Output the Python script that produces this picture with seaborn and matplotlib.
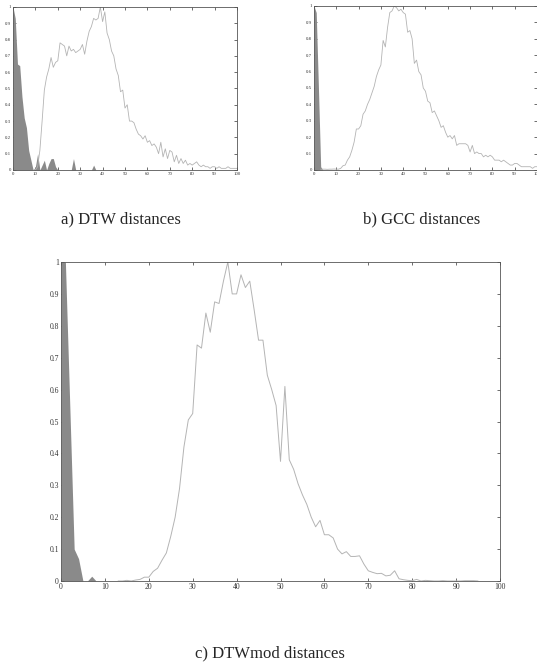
import numpy as np
import pandas as pd
import matplotlib
matplotlib.use("Agg")
import matplotlib.pyplot as plt
import seaborn as sns

sns.set_style("ticks")
plt.rcParams['font.family'] = ['Liberation Serif', 'DejaVu Serif']

# ---------------- data ----------------
x_a_fill = [0, 1, 2, 3, 4, 5, 6, 7, 8, 9, 10, 11, 12, 13, 14, 15, 16, 17, 18, 19, 20,
            26, 27, 28, 35, 36, 37, 100]
a_within = [1.0, 0.93, 0.65, 0.64, 0.45, 0.32, 0.26, 0.12, 0.06, 0.0, 0.02, 0.10, 0.0, 0.03, 0.06, 0.0, 0.04, 0.07, 0.07, 0.02, 0.0,
            0.0, 0.07, 0.0, 0.0, 0.03, 0.0, 0.0]
x_a_line = list(range(9, 101))
a_between = [0.0, 0.0, 0.02, 0.12, 0.3, 0.49, 0.57, 0.62, 0.69, 0.63, 0.66, 0.67,
             0.78, 0.77, 0.76, 0.70, 0.76, 0.73, 0.74, 0.72, 0.73, 0.74, 0.77, 0.71,
             0.79, 0.85, 0.88, 0.93, 0.92, 0.93, 1.0, 0.91, 0.97, 0.84, 0.80, 0.73,
             0.70, 0.62, 0.58, 0.48, 0.49, 0.38, 0.40, 0.30, 0.30, 0.29, 0.25, 0.22,
             0.21, 0.19, 0.21, 0.17, 0.18, 0.15, 0.16, 0.14, 0.10, 0.17, 0.08, 0.13,
             0.07, 0.12, 0.11, 0.05, 0.09, 0.04, 0.07, 0.04, 0.06, 0.03, 0.04, 0.03,
             0.04, 0.05, 0.03, 0.02, 0.03, 0.02, 0.02, 0.01, 0.02, 0.02, 0.01, 0.02,
             0.01, 0.01, 0.01, 0.02, 0.01, 0.01, 0.01, 0.01]

x_b_fill = [0, 1, 2, 3, 4, 100]
b_within = [1.0, 0.96, 0.5, 0.02, 0.0, 0.0]
x_b_line = list(range(3, 101))
b_between = [0.005, 0.005, 0.005, 0.004, 0.005, 0.005, 0.006, 0.005, 0.005, 0.01,
             0.026, 0.03, 0.06, 0.08, 0.12, 0.17, 0.25, 0.25, 0.27, 0.34,
             0.36, 0.40, 0.43, 0.47, 0.51, 0.57, 0.61, 0.64, 0.79, 0.75,
             0.87, 0.96, 0.97, 1.0, 0.99, 0.97, 0.98, 0.96, 0.95, 0.84,
             0.85, 0.80, 0.65, 0.67, 0.60, 0.58, 0.50, 0.48, 0.42, 0.41,
             0.35, 0.36, 0.33, 0.30, 0.26, 0.27, 0.23, 0.20, 0.21, 0.19,
             0.21, 0.15, 0.16, 0.16, 0.16, 0.16, 0.15, 0.11, 0.15, 0.10,
             0.11, 0.10, 0.10, 0.08, 0.09, 0.08, 0.09, 0.08, 0.06, 0.06,
             0.06, 0.05, 0.06, 0.05, 0.04, 0.03, 0.03, 0.04, 0.04, 0.03,
             0.02, 0.02, 0.02, 0.02, 0.02, 0.01, 0.02, 0.02]

x_c_fill = [0, 1, 2, 3, 4, 5, 6, 7, 8, 100]
c_within = [1.0, 1.0, 0.55, 0.10, 0.07, 0.0, 0.0, 0.015, 0.0, 0.0]
x_c_line = list(range(13, 96))
c_between = [0.0, 0.0, 0.002, 0.0, 0.003, 0.005, 0.012, 0.012, 0.03, 0.04,
             0.065, 0.088, 0.14, 0.2, 0.29, 0.42, 0.505, 0.525, 0.74, 0.73,
             0.84, 0.78, 0.875, 0.87, 0.94, 1.0, 0.9, 0.9, 0.96, 0.92,
             0.94, 0.85, 0.755, 0.755, 0.645, 0.6, 0.55, 0.375, 0.61, 0.38,
             0.35, 0.305, 0.27, 0.24, 0.2, 0.17, 0.19, 0.145, 0.145, 0.135,
             0.10, 0.085, 0.092, 0.077, 0.077, 0.079, 0.053, 0.032, 0.027, 0.023,
             0.024, 0.016, 0.018, 0.032, 0.007, 0.004, 0.002, 0.001, 0.005, 0.0,
             0.002, 0.001, 0.0, 0.0, 0.001, 0.0, 0.0, 0.0, 0.0, 0.001,
             0.001, 0.001, 0.0]

x_ticks = [0, 10, 20, 30, 40, 50, 60, 70, 80, 90, 100]
y_ticks = [0, 0.1, 0.2, 0.3, 0.4, 0.5, 0.6, 0.7, 0.8, 0.9, 1]
y_labels = ["0", "0.1", "0.2", "0.3", "0.4", "0.5", "0.6", "0.7", "0.8", "0.9", "1"]
captions = ["a) DTW distances", "b) GCC distances", "c) DTWmod distances"]

FILL = "#8a8a8a"
LINE = "#b4b4b4"

fig = plt.figure(figsize=(5.37, 6.64), dpi=100)

def panel(rect, xf, yf, xl, yl, fs, lw):
    ax = fig.add_axes(rect)
    ax.fill_between(xf, yf, 0, color=FILL, linewidth=0)
    df = pd.DataFrame({"x": xl, "y": yl})
    sns.lineplot(data=df, x="x", y="y", ax=ax, color=LINE, linewidth=lw)
    ax.set_xlim(0, 100)
    ax.set_ylim(0, 1)
    ax.set_xticks(x_ticks)
    ax.set_xticklabels([str(t) for t in x_ticks])
    ax.set_yticks(y_ticks)
    ax.set_yticklabels(y_labels)
    ax.set_xlabel("")
    ax.set_ylabel("")
    ax.tick_params(direction="in", top=True, right=True, length=2.5, width=0.5,
                   labelsize=fs, pad=1.5, colors="#333333")
    for s in ax.spines.values():
        s.set_linewidth(0.6)
        s.set_color("#555555")
    ax.grid(False)
    return ax

panel([0.0242, 0.744, 0.4171, 0.2455], x_a_fill, a_within, x_a_line, a_between, 3.5, 0.6)
panel([0.5847, 0.744, 0.4153, 0.2470], x_b_fill, b_within, x_b_line, b_between, 3.5, 0.6)
panel([0.1136, 0.125, 0.8175, 0.4804], x_c_fill, c_within, x_c_line, c_between, 5.5, 0.7)

fig.text(0.226, 0.670, captions[0], ha="center", va="center", fontsize=12)
fig.text(0.786, 0.670, captions[1], ha="center", va="center", fontsize=12)
fig.text(0.503, 0.0166, captions[2], ha="center", va="center", fontsize=12)

fig.savefig("out.png", dpi=100)
